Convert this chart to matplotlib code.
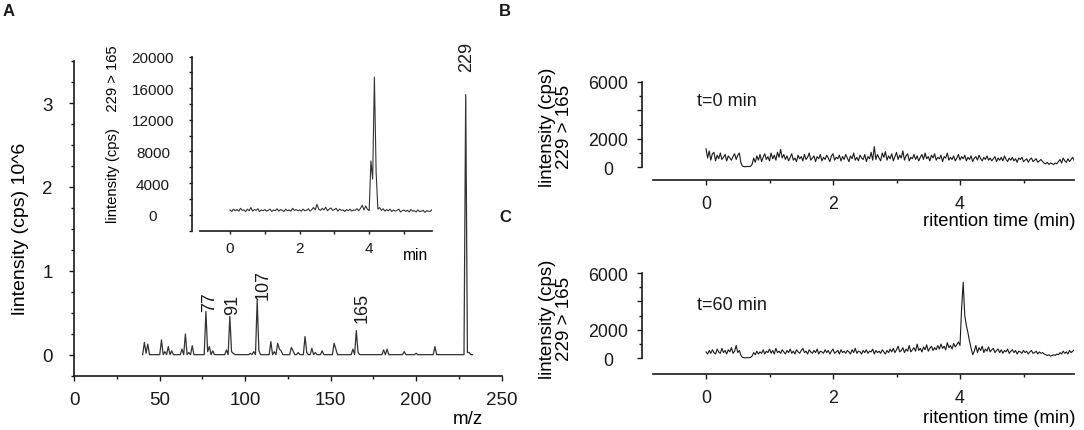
import numpy as np
import matplotlib.pyplot as plt

plt.rcParams['font.family'] = ['Liberation Sans', 'DejaVu Sans']

# ---- A: EI mass spectrum, intensity in 10^6 cps
ms_mz = [41, 42, 43, 51, 53, 55, 57, 63, 65, 67, 69, 77, 78, 79, 81, 89, 91, 92, 93,
         103, 105, 107, 108, 115, 117, 119, 120, 121, 127, 128, 131, 135, 136, 139,
         141, 145, 152, 153, 163, 165, 166, 181, 183, 193, 200, 211, 229, 230, 231]
ms_int = [0.15, 0.02, 0.13, 0.18, 0.04, 0.10, 0.05, 0.07, 0.25, 0.03, 0.11, 0.52, 0.04,
          0.10, 0.05, 0.06, 0.46, 0.04, 0.02, 0.02, 0.04, 0.65, 0.05, 0.16, 0.04, 0.14,
          0.07, 0.05, 0.09, 0.05, 0.03, 0.22, 0.03, 0.08, 0.03, 0.05, 0.14, 0.07, 0.07,
          0.29, 0.03, 0.06, 0.07, 0.04, 0.02, 0.10, 3.10, 0.03, 0.03]
ms_first, ms_last = 40, 233
labelled = [77, 91, 107, 165, 229]

# ---- A inset: MRM 229 > 165 of the standard (cps), 0.05 min steps
inset_int = [600, 400, 700, 500, 650, 450, 800, 550, 600, 400, 700, 500, 900, 450, 650, 550, 750, 400, 600, 500,
             650, 450, 550, 700, 400, 600, 500, 750, 450, 650, 550, 400, 700, 500, 600, 450, 800, 550, 650, 500,
             600, 450, 700, 500, 550, 750, 450, 650, 900, 600, 1300, 700, 550, 800, 600, 950, 500, 700, 850, 550,
             650, 800, 450, 700, 550, 600, 400, 650, 500, 700, 450, 600, 550, 750, 500, 800, 1200, 600, 1100, 700,
             500, 6800, 4500, 17400, 5300, 700,
             900, 550, 750, 450, 650, 500, 700, 400, 600, 450, 550, 700, 350, 500,
             600, 400, 550, 350, 650, 450, 500, 350, 600, 400, 450, 550, 300, 500, 450, 400, 600]

# ---- B / C: MRM 229 > 165 of the sample at t=0 and t=60 min (cps), 0.025 min steps
t0_int = [1300, 650, 1150, 500, 950, 1050, 450, 850, 600, 1000, 550, 700, 900, 450, 800, 650, 500, 750, 950, 550,
          850, 1000,
          300, 80, 50, 40, 60, 50, 70, 200,
          650, 350, 800, 500, 900, 400, 700, 950, 550, 750, 450, 1000, 600, 850, 500, 1050, 700, 1250, 650, 900,
          550,
          800, 450, 700, 950, 500, 650, 400, 850, 600, 750, 450, 900, 550, 700, 1000, 500, 650, 800, 400, 750,
          600, 900, 450, 700, 550, 850, 650, 400, 800, 950, 500, 700, 600, 850, 450, 750, 550, 900, 650, 400,
          800, 600, 1000, 500, 700, 450, 850, 650, 550, 900, 400, 750, 600, 1050, 500,
          1450,
          550, 900, 650, 450, 1000, 700, 1100, 500, 800, 600, 950, 450, 750, 1050, 550, 850, 650, 1150, 500, 800,
          950, 450, 700, 600, 900, 550,
          800, 450, 700, 900, 550, 1000, 600, 750, 450, 850, 650, 950, 500, 700, 600, 850, 400, 750, 650, 1000,
          500, 700, 550, 800, 450, 650, 900, 500, 750, 600, 850, 450, 700, 550, 800, 400, 650, 750, 500, 850,
          600, 450, 700, 550, 800, 500, 650, 450,
          600, 750, 400, 650, 500, 700, 450, 800, 550, 400, 650, 500, 700, 450, 600, 350, 650, 550, 700, 400,
          500, 600, 350, 550, 650, 400, 500, 600, 350, 450, 550, 400,
          300, 250, 350, 200, 300, 250, 200, 300, 250, 400, 550, 300, 650, 450, 350, 600, 400, 550, 700, 450]
t60_int = [450, 300, 550, 350, 600, 400, 300, 650, 450, 350, 700, 400, 550, 300, 600, 450, 750, 350, 500, 900,
           400, 550,
           200, 60, 40, 30, 50, 40, 60, 150,
           400, 250, 500, 300, 450, 350, 600, 300, 500, 400, 650, 350, 550, 300, 700, 400, 500, 350, 600, 450,
           300, 550, 400, 650, 350, 500, 300, 600, 450, 350, 550, 700, 400, 500, 300, 600, 450, 350, 550, 400,
           650, 300, 500, 450, 350, 600, 400, 550, 300, 500, 650, 350, 450, 550, 300, 600, 400, 500, 350, 550,
           450, 300, 600, 400, 700, 350, 500, 450, 300, 550, 400, 600, 350, 500, 450, 650, 300, 550, 400, 500,
           350, 600, 450, 300, 550, 400, 650,
           450, 700, 400, 600, 850, 450, 550, 750, 400, 650, 500, 900, 450, 600, 750, 500, 1000, 550, 700, 450,
           800, 600, 950, 500, 700, 850, 550, 750, 600, 900, 650, 1000, 700, 850, 600, 1100, 750, 900, 650, 1050,
           800, 950, 1150,
           900, 3500, 5350, 3000, 2300, 1800, 1200, 700, 250,
           500, 900, 400, 750, 550, 850, 400, 650, 500, 800, 450, 600, 700, 400, 550, 650,
           400, 600, 350, 550, 450, 650, 350, 500, 600, 400, 550, 300, 500, 450, 350, 550, 400, 500, 300, 450,
           550, 350, 400, 500, 300, 450, 350, 400,
           300, 250, 200, 250, 150, 200, 250, 200, 300, 250, 400, 300, 500, 350, 450, 300, 550, 400, 500, 600]
rt_end = 5.8

FW, FH = 1084, 431
INK = '#1a1a1a'


def rect(l, t, r, b):
    return [l / FW, 1 - b / FH, (r - l) / FW, (b - t) / FH]


def style(ax, fs, ypad, xpad, major=3.6, minor=2.4):
    for s in ['top', 'right']:
        ax.spines[s].set_visible(False)
    for s in ['left', 'bottom']:
        ax.spines[s].set_linewidth(1.2)
        ax.spines[s].set_color(INK)
    ax.tick_params(which='both', direction='out', width=1.0, color=INK, labelsize=fs, labelcolor=INK)
    ax.tick_params(which='major', length=major)
    ax.tick_params(which='minor', length=minor)
    ax.tick_params(axis='y', which='both', pad=ypad)
    ax.tick_params(axis='x', which='both', pad=xpad)
    for lab in ax.get_yticklabels():
        lab.set_horizontalalignment('center')


fig = plt.figure(figsize=(FW / 100, FH / 100), dpi=100)

# ---------------- A
ax = fig.add_axes(rect(74.3, 62, 501.6, 377))
lookup = dict(zip(ms_mz, ms_int))
mz = np.arange(ms_first, ms_last + 1)
inten = np.array([lookup.get(m, 0.004) for m in mz])
ax.plot(mz, inten, color='#333333', lw=0.9)
ax.set_xlim(0, 250)
ax.set_ylim(-0.25, 3.5)
ax.set_xticks(range(0, 251, 50))
ax.set_xticks(range(25, 250, 50), minor=True)
ax.set_yticks([0, 1, 2, 3])
ax.set_yticks(np.arange(-0.25, 3.51, 0.25), minor=True)
style(ax, 13.5, 15.7, 6.9)
ax.set_xlabel('m/z', fontsize=13.5, va='center')
ax.xaxis.set_label_coords(0.9214, -0.1365)
ax.set_ylabel('lintensity (cps) 10^6', fontsize=14, va='center')
ax.yaxis.set_label_coords(-0.1259, 0.4698)

offsets = {77: (3, 0), 91: (2.3, 1.7), 107: (4.2, 1), 165: (4.1, 6.2), 229: (1, 17)}
for m in labelled:
    ax.annotate(str(m), (m, lookup[m]), xytext=offsets[m], textcoords='offset points',
                rotation=90, ha='center', va='bottom', fontsize=13, color=INK)

# ---------------- A inset
ax = fig.add_axes(rect(192.1, 57.5, 431.8, 231.5))
t = np.linspace(0, rt_end, len(inset_int))
ax.plot(t, inset_int, color='#333333', lw=0.8)
ax.set_xlim(-1.09, rt_end)
ax.set_ylim(-2000, 20000)
ax.spines['bottom'].set_bounds(-0.86, rt_end)
ax.set_xticks([0, 2, 4])
ax.set_xticks([1, 3, 5], minor=True)
ax.set_yticks(range(0, 20001, 4000))
ax.set_yticks(range(-2000, 20000, 4000), minor=True)
style(ax, 11, 26, 5.4, major=2.2, minor=2.2)
ax.set_xlabel('min', fontsize=11.2, va='center')
ax.xaxis.set_label_coords(0.934, -0.1408)
ax.set_ylabel('lintensity (cps)    229 > 165', fontsize=10.6, va='center')
ax.yaxis.set_label_coords(-0.330, 0.5575)

# ---------------- B and C
panels = [
    (rect(641.9, 82.7, 1074.3, 181), t0_int, -890, 't=0 min', 4670, 0.549, -0.417),
    (rect(641.9, 274.1, 1074.3, 374.9), t60_int, -1100, 't=60 min', 3820, 0.5546, -0.4375),
]
for box, vals, ybot, tag, tag_y, ylab_y, xlab_y in panels:
    ax = fig.add_axes(box)
    t = np.linspace(0, rt_end, len(vals))
    ax.plot(t, vals, color=INK, lw=0.8)
    ax.set_xlim(-1.01, rt_end)
    ax.set_ylim(ybot, 6000)
    ax.spines['bottom'].set_bounds(-0.83, rt_end)
    ax.spines['left'].set_bounds(0, 6000)
    ax.set_xticks([0, 2, 4])
    ax.set_xticks([1, 3, 5], minor=True)
    ax.set_yticks([0, 2000, 4000, 6000], labels=['0', '2000', '', '6000'])
    ax.set_yticks([1000, 3000, 5000], minor=True)
    style(ax, 12.8, 20.8, 7.5)
    ax.text(-0.14, tag_y, tag, fontsize=13, ha='left', va='center', color=INK)
    ax.set_xlabel('ritention time (min)', fontsize=13.2, va='center')
    ax.xaxis.set_label_coords(0.827, xlab_y)
    ax.set_ylabel('lintensity (cps)\n229 > 165', fontsize=13.5, va='center', linespacing=0.95)
    ax.yaxis.set_label_coords(-0.1987, ylab_y)

for letter, x, y in [('A', 9, 12), ('B', 505, 12), ('C', 505, 217)]:
    fig.text(x / FW, 1 - y / FH, letter, fontsize=12, fontweight='bold', ha='center', va='center', color=INK)

fig.savefig('out.png', dpi=100)
